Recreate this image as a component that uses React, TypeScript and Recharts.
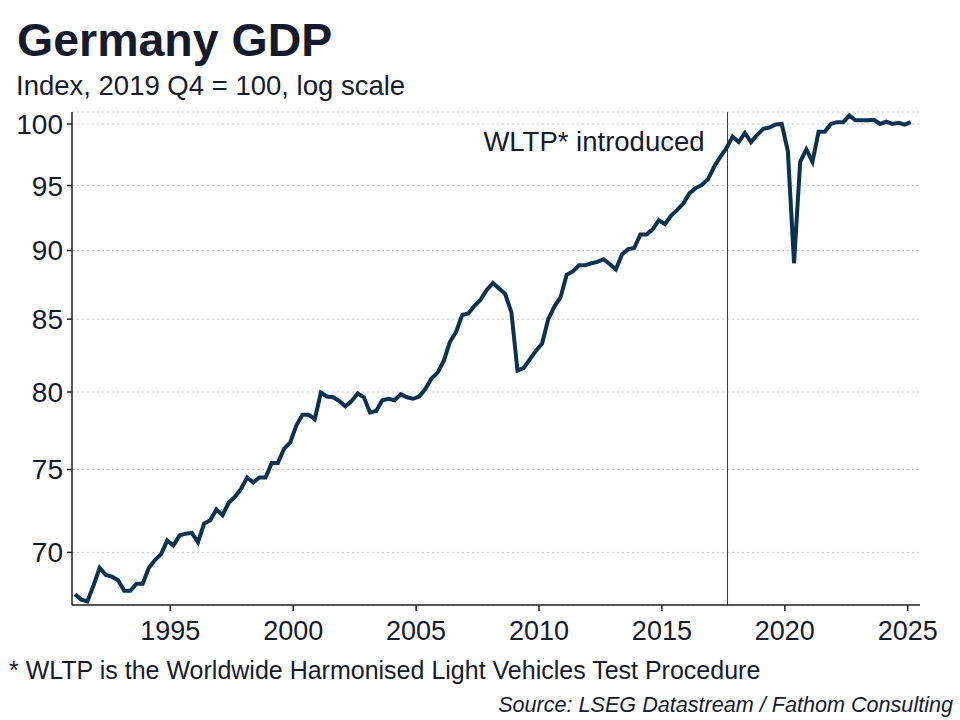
import { LineChart, Line, XAxis, YAxis, CartesianGrid, ReferenceLine } from 'recharts';

// Real GDP, index 2019 Q4 = 100, quarterly from 1991 Q1 to 2025 Q1
const firstYear = 1991;
const gdpIndex = [
  67.6, 67.3, 67.2, 68.1, 69.1, 68.7, 68.6, 68.4, 67.8, 67.8,
  68.2, 68.2, 69.1, 69.55, 69.9, 70.7, 70.4, 71.0, 71.1, 71.15,
  70.6, 71.7, 71.9, 72.55, 72.2, 72.95, 73.3, 73.8, 74.5, 74.2,
  74.5, 74.5, 75.4, 75.4, 76.3, 76.7, 77.8, 78.5, 78.5, 78.2,
  79.95, 79.7, 79.65, 79.4, 79.05, 79.4, 79.9, 79.65, 78.65, 78.75,
  79.45, 79.55, 79.45, 79.85, 79.65, 79.55, 79.7, 80.2, 80.9, 81.3,
  82.1, 83.4, 84.1, 85.3, 85.4, 85.95, 86.4, 87.1, 87.6, 87.2,
  86.8, 85.5, 81.45, 81.6, 82.2, 82.8, 83.3, 85.0, 85.9, 86.55,
  88.2, 88.45, 88.9, 88.9, 89.05, 89.15, 89.35, 89.0, 88.6, 89.7,
  90.1, 90.2, 91.2, 91.2, 91.6, 92.3, 92.0, 92.65, 93.1, 93.6,
  94.4, 94.8, 95.05, 95.5, 96.5, 97.3, 98.0, 98.95, 98.5, 99.25,
  98.5, 99.1, 99.6, 99.7, 99.95, 100.0, 97.75, 89.05, 96.9, 97.9,
  96.9, 99.35, 99.35, 100.0, 100.15, 100.15, 100.7, 100.3, 100.3, 100.3,
  100.35, 100.0, 100.2, 100.0, 100.1, 99.95, 100.15,
];

const yearTicks = [1995, 2000, 2005, 2010, 2015, 2020, 2025];
const indexTicks = [70, 75, 80, 85, 90, 95, 100];
const wltpDate = 2017.67;

// each quarter plotted at its mid-point
const data = gdpIndex.map((v, i) => ({ t: firstYear + (i + 0.5) / 4, gdp: v }));

const ink = '#141a2e';
const font = '"Liberation Sans", Arial, sans-serif';

const WltpLabel = ({ viewBox }: any) => (
  <text
    x={viewBox.x - 23}
    y={viewBox.y + 39}
    textAnchor="end"
    fill={ink}
    fontSize={27.5}
    fontFamily={font}
  >
    WLTP* introduced
  </text>
);

export default function App() {
  return (
    <div
      style={{
        position: 'absolute',
        left: 0,
        top: 0,
        width: 960,
        height: 720,
        background: '#fff',
        fontFamily: font,
        color: ink,
        lineHeight: 1,
      }}
    >
      <div style={{ position: 'absolute', left: 17, top: 17, fontSize: 46.5, fontWeight: 'bold' }}>
        Germany GDP
      </div>
      <div style={{ position: 'absolute', left: 16, top: 72, fontSize: 27.5 }}>
        Index, 2019 Q4 = 100, log scale
      </div>

      <div style={{ position: 'absolute', left: 0, top: 0 }}>
        <LineChart
          width={960}
          height={720}
          data={data}
          margin={{ top: 112, right: 40, bottom: 75, left: 0 }}
        >
          <CartesianGrid
            horizontal
            vertical={false}
            stroke="#c4c4c4"
            strokeDasharray="2 3"
          />
          <XAxis
            dataKey="t"
            type="number"
            domain={[1991, 2025.5]}
            ticks={yearTicks}
            height={40}
            stroke="#222"
            strokeWidth={1.5}
            tickSize={6}
            tickMargin={10}
            tick={{ fill: ink, fontSize: 27, fontFamily: font }}
          />
          <YAxis
            scale="log"
            domain={[67, 101]}
            ticks={indexTicks}
            allowDataOverflow
            width={72}
            stroke="#222"
            strokeWidth={1.5}
            tickSize={5}
            tickMargin={4}
            tick={{ fill: ink, fontSize: 28, fontFamily: font }}
          />
          <ReferenceLine
            x={wltpDate}
            stroke="#333"
            strokeWidth={1}
            label={<WltpLabel />}
          />
          <Line
            type="linear"
            dataKey="gdp"
            stroke="#073350"
            strokeWidth={4}
            dot={false}
            isAnimationActive={false}
          />
        </LineChart>
      </div>

      <div style={{ position: 'absolute', left: 9, top: 658, fontSize: 25 }}>
        * WLTP is the Worldwide Harmonised Light Vehicles Test Procedure
      </div>
      <div
        style={{
          position: 'absolute',
          right: 7,
          top: 694,
          fontSize: 21.6,
          fontStyle: 'italic',
        }}
      >
        Source: LSEG Datastream / Fathom Consulting
      </div>
    </div>
  );
}
